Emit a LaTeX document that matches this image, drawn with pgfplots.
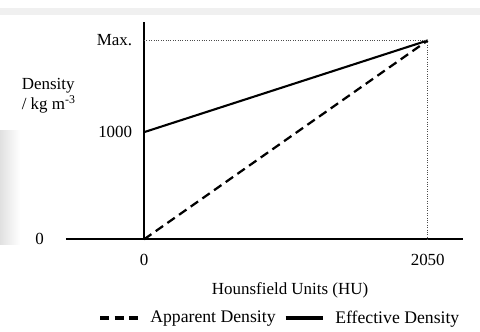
\documentclass[border=0pt]{standalone}
\usepackage{pgfplots}
\pgfplotsset{compat=1.18}
\usepackage{fontspec}
\setmainfont{Liberation Serif}
\begin{document}
\begin{tikzpicture}
\begin{axis}[
  scale only axis, width=264.9pt, height=145.1pt,
  axis lines=middle, axis line style={-, line width=1.5pt},
  xmin=-564, xmax=2307, ymin=0, ymax=2031,
  clip=false,
  hide obscured x ticks=false, hide obscured y ticks=false,
  font=\fontsize{11.3}{13.5}\selectfont,
  xtick={0,2050}, xticklabels={0,2050},
  ytick={1000,1856}, yticklabels={1000,Max.},
  major tick length=0pt,
  xticklabel style={yshift=-6.2pt},
  yticklabel style={xshift=-4.4pt},
  xlabel={Hounsfield Units (HU)},
  xlabel style={at={(axis description cs:0.564,-0.233)}, anchor=center},
  ylabel={Density\\/ kg m\textsuperscript{-3}},
  ylabel style={at={(axis description cs:-0.1246,0.659)}, anchor=west, align=left, rotate=0},
  legend image code/.code={\draw[#1, line width=2.2pt] (0pt,0pt) -- (25pt,0pt); \path (30.5pt,0pt);},
  legend style={at={(axis description cs:0.540,-0.362)}, anchor=center, draw=none, fill=none,
    font=\fontsize{11.8}{14}\selectfont,
    legend columns=2, /tikz/every even column/.append style={column sep=3.5pt}},
]
\fill[black!6] (rel axis cs:-0.1661,1.031) rectangle (rel axis cs:1.0420,1.063);
\shade[left color=black!12, right color=white] (rel axis cs:-0.1661,0.50) rectangle (rel axis cs:-0.1157,-0.026);
\path (rel axis cs:-0.1661,1.0997) rectangle (rel axis cs:1.0420,-0.4122);
\addplot[black, line width=1.5pt, dash pattern=on 6pt off 3.5pt] coordinates {(0,0) (2050,1856)};
\addlegendentry{Apparent Density}
\addplot[black, line width=1.4pt] coordinates {(0,1000) (2050,1856)};
\addlegendentry{Effective Density}
\addplot[black!70, line width=0.6pt, densely dotted, forget plot] coordinates {(0,1856) (2050,1856) (2050,0)};
\node[anchor=center] at (rel axis cs:-0.0667,0) {0};
\end{axis}
\end{tikzpicture}
\end{document}
